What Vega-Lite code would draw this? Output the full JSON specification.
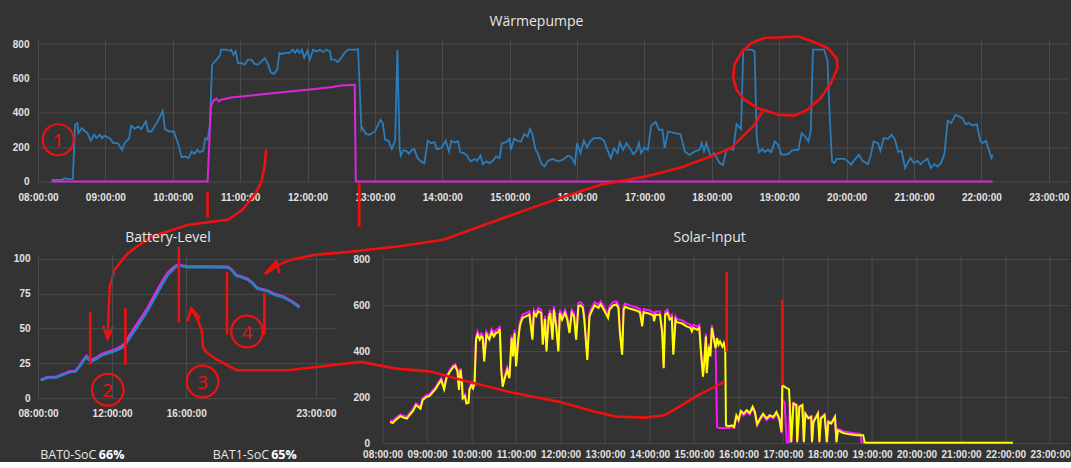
{
  "$schema": "https://vega.github.io/schema/vega-lite/v6.json",
  "background": "#333333",
  "padding": {"left": 12, "top": 14.5, "right": 0, "bottom": 0},
  "autosize": {"type": "pad"},
  "bounds": "flush",
  "spacing": 72.6,
  "config": {
    "view": {"stroke": null},
    "axis": {"domain": false, "ticks": false, "grid": true, "gridColor": "#4a4a4a", "gridWidth": 1, "labelColor": "#e2e2e2", "labelFont": "Liberation Sans", "labelFontSize": 10, "labelFontWeight": "bold", "title": null, "labelFlush": false, "labelOverlap": false},
    "title": {"font": "Open Sans", "fontSize": 14, "fontWeight": "normal", "color": "#e6e6e6", "frame": "group", "anchor": "middle"}
  },
  "datasets": {
    "wp1": [
      {"t":"08:12","v":10},{"t":"08:21","v":10},{"t":"08:24","v":19},{"t":"08:27","v":14},{"t":"08:31","v":15},{"t":"08:33","v":330},{"t":"08:35","v":340},{"t":"08:36","v":282},{"t":"08:39","v":311},{"t":"08:42","v":291},{"t":"08:44","v":282},{"t":"08:47","v":237},{"t":"08:50","v":272},{"t":"08:52","v":252},{"t":"08:55","v":272},{"t":"08:57","v":252},{"t":"08:59","v":266},{"t":"09:04","v":252},{"t":"09:07","v":223},{"t":"09:11","v":223},{"t":"09:15","v":184},{"t":"09:17","v":223},{"t":"09:21","v":249},{"t":"09:23","v":326},{"t":"09:26","v":307},{"t":"09:29","v":320},{"t":"09:32","v":305},{"t":"09:36","v":350},{"t":"09:38","v":291},{"t":"09:41","v":291},{"t":"09:45","v":334},{"t":"09:48","v":369},{"t":"09:51","v":412},{"t":"09:53","v":305},{"t":"09:57","v":291},{"t":"10:01","v":291},{"t":"10:05","v":214},{"t":"10:08","v":140},{"t":"10:11","v":146},{"t":"10:14","v":136},{"t":"10:17","v":175},{"t":"10:19","v":161},{"t":"10:22","v":184},{"t":"10:24","v":171},{"t":"10:27","v":179},{"t":"10:29","v":252},{"t":"10:31","v":243},{"t":"10:33","v":330},{"t":"10:35","v":680},{"t":"10:39","v":709},{"t":"10:42","v":734},{"t":"10:43","v":767},{"t":"10:48","v":767},{"t":"10:51","v":761},{"t":"10:52","v":767},{"t":"10:54","v":738},{"t":"10:56","v":757},{"t":"10:58","v":689},{"t":"11:01","v":689},{"t":"11:04","v":680},{"t":"11:07","v":709},{"t":"11:10","v":709},{"t":"11:13","v":684},{"t":"11:16","v":680},{"t":"11:19","v":699},{"t":"11:22","v":719},{"t":"11:25","v":680},{"t":"11:27","v":637},{"t":"11:30","v":625},{"t":"11:33","v":651},{"t":"11:35","v":748},{"t":"11:37","v":742},{"t":"11:40","v":748},{"t":"11:44","v":748},{"t":"11:47","v":767},{"t":"11:49","v":748},{"t":"11:51","v":767},{"t":"11:53","v":748},{"t":"11:55","v":767},{"t":"11:57","v":719},{"t":"12:00","v":761},{"t":"12:02","v":709},{"t":"12:05","v":767},{"t":"12:08","v":757},{"t":"12:11","v":767},{"t":"12:14","v":754},{"t":"12:17","v":767},{"t":"12:20","v":757},{"t":"12:21","v":709},{"t":"12:24","v":709},{"t":"12:27","v":695},{"t":"12:30","v":719},{"t":"12:33","v":748},{"t":"12:36","v":767},{"t":"12:42","v":767},{"t":"12:45","v":769},{"t":"12:48","v":301},{"t":"12:49","v":311},{"t":"12:52","v":276},{"t":"12:55","v":272},{"t":"13:00","v":291},{"t":"13:03","v":334},{"t":"13:05","v":359},{"t":"13:07","v":340},{"t":"13:09","v":243},{"t":"13:12","v":237},{"t":"13:15","v":188},{"t":"13:18","v":237},{"t":"13:20","v":767},{"t":"13:22","v":194},{"t":"13:23","v":151},{"t":"13:25","v":181},{"t":"13:28","v":179},{"t":"13:30","v":161},{"t":"13:33","v":184},{"t":"13:35","v":188},{"t":"13:38","v":136},{"t":"13:41","v":117},{"t":"13:44","v":107},{"t":"13:47","v":237},{"t":"13:50","v":223},{"t":"13:53","v":229},{"t":"13:55","v":188},{"t":"13:59","v":194},{"t":"14:03","v":237},{"t":"14:06","v":175},{"t":"14:08","v":237},{"t":"14:11","v":227},{"t":"14:14","v":233},{"t":"14:16","v":171},{"t":"14:19","v":165},{"t":"14:22","v":151},{"t":"14:25","v":117},{"t":"14:29","v":130},{"t":"14:31","v":120},{"t":"14:34","v":151},{"t":"14:36","v":101},{"t":"14:39","v":117},{"t":"14:42","v":107},{"t":"14:45","v":120},{"t":"14:48","v":146},{"t":"14:51","v":136},{"t":"14:53","v":223},{"t":"14:57","v":229},{"t":"15:00","v":249},{"t":"15:01","v":184},{"t":"15:04","v":249},{"t":"15:07","v":237},{"t":"15:10","v":233},{"t":"15:13","v":276},{"t":"15:16","v":262},{"t":"15:18","v":305},{"t":"15:20","v":282},{"t":"15:23","v":184},{"t":"15:25","v":165},{"t":"15:28","v":107},{"t":"15:31","v":87},{"t":"15:34","v":120},{"t":"15:38","v":132},{"t":"15:43","v":117},{"t":"15:47","v":126},{"t":"15:52","v":151},{"t":"15:55","v":140},{"t":"15:58","v":103},{"t":"16:00","v":223},{"t":"16:03","v":165},{"t":"16:06","v":237},{"t":"16:09","v":198},{"t":"16:12","v":237},{"t":"16:15","v":252},{"t":"16:21","v":252},{"t":"16:24","v":237},{"t":"16:27","v":184},{"t":"16:30","v":136},{"t":"16:33","v":194},{"t":"16:36","v":165},{"t":"16:38","v":229},{"t":"16:41","v":184},{"t":"16:44","v":223},{"t":"16:47","v":194},{"t":"16:50","v":159},{"t":"16:53","v":179},{"t":"16:55","v":223},{"t":"16:57","v":165},{"t":"17:00","v":198},{"t":"17:03","v":184},{"t":"17:06","v":326},{"t":"17:10","v":346},{"t":"17:13","v":301},{"t":"17:16","v":301},{"t":"17:18","v":194},{"t":"17:21","v":291},{"t":"17:27","v":282},{"t":"17:32","v":276},{"t":"17:36","v":175},{"t":"17:40","v":155},{"t":"17:45","v":175},{"t":"17:49","v":184},{"t":"17:51","v":223},{"t":"17:53","v":175},{"t":"17:55","v":223},{"t":"17:59","v":146},{"t":"18:02","v":165},{"t":"18:07","v":107},{"t":"18:10","v":97},{"t":"18:13","v":184},{"t":"18:16","v":194},{"t":"18:19","v":184},{"t":"18:22","v":334},{"t":"18:26","v":305},{"t":"18:28","v":767},{"t":"18:35","v":767},{"t":"18:38","v":757},{"t":"18:40","v":252},{"t":"18:42","v":171},{"t":"18:45","v":190},{"t":"18:47","v":171},{"t":"18:50","v":184},{"t":"18:53","v":171},{"t":"18:56","v":233},{"t":"18:59","v":214},{"t":"19:02","v":155},{"t":"19:08","v":159},{"t":"19:11","v":179},{"t":"19:14","v":184},{"t":"19:17","v":184},{"t":"19:20","v":282},{"t":"19:23","v":262},{"t":"19:26","v":233},{"t":"19:28","v":291},{"t":"19:30","v":767},{"t":"19:40","v":767},{"t":"19:43","v":699},{"t":"19:45","v":369},{"t":"19:47","v":117},{"t":"19:49","v":107},{"t":"19:51","v":132},{"t":"19:58","v":132},{"t":"20:01","v":117},{"t":"20:04","v":97},{"t":"20:07","v":126},{"t":"20:11","v":155},{"t":"20:14","v":120},{"t":"20:19","v":101},{"t":"20:22","v":165},{"t":"20:24","v":233},{"t":"20:28","v":223},{"t":"20:30","v":179},{"t":"20:33","v":252},{"t":"20:37","v":249},{"t":"20:40","v":272},{"t":"20:43","v":243},{"t":"20:46","v":171},{"t":"20:49","v":179},{"t":"20:52","v":78},{"t":"20:55","v":117},{"t":"20:57","v":136},{"t":"21:00","v":107},{"t":"21:03","v":120},{"t":"21:06","v":101},{"t":"21:09","v":120},{"t":"21:12","v":132},{"t":"21:15","v":78},{"t":"21:18","v":101},{"t":"21:21","v":87},{"t":"21:24","v":107},{"t":"21:27","v":159},{"t":"21:30","v":353},{"t":"21:33","v":340},{"t":"21:37","v":388},{"t":"21:40","v":379},{"t":"21:43","v":369},{"t":"21:46","v":334},{"t":"21:49","v":340},{"t":"21:52","v":326},{"t":"21:56","v":334},{"t":"21:59","v":237},{"t":"22:01","v":223},{"t":"22:04","v":237},{"t":"22:09","v":136},{"t":"22:10","v":155}
    ],
    "wp2": [
      {"t":"08:12","v":0},{"t":"10:31","v":0},{"t":"10:34","v":437},{"t":"10:36","v":470},{"t":"10:39","v":482},{"t":"10:41","v":466},{"t":"10:43","v":476},{"t":"10:52","v":489},{"t":"11:22","v":509},{"t":"11:51","v":528},{"t":"12:21","v":548},{"t":"12:30","v":559},{"t":"12:42","v":563},{"t":"12:43","v":0},{"t":"22:10","v":0}
    ],
    "curveA": [
      {"t":"11:22","v":-539},{"t":"11:34","v":-485},{"t":"11:45","v":-456},{"t":"12:06","v":-427},{"t":"12:39","v":-408},{"t":"13:20","v":-378},{"t":"14:01","v":-339},{"t":"14:42","v":-242},{"t":"15:19","v":-155},{"t":"15:44","v":-97},{"t":"16:21","v":-19},{"t":"17:01","v":29},{"t":"17:31","v":78},{"t":"17:59","v":146},{"t":"18:17","v":194},{"t":"18:38","v":330},{"t":"18:45","v":408}
    ],
    "arrowA": [
      {"t":"11:22","v":-539},{"t":"11:32","v":-466},{"t":"11:35","v":-533}
    ],
    "curveB": [
      {"t":"09:02","v":-912},{"t":"09:03","v":-728},{"t":"09:04","v":-611},{"t":"09:08","v":-514},{"t":"09:20","v":-417},{"t":"09:41","v":-320},{"t":"10:14","v":-252},{"t":"10:49","v":-223},{"t":"11:02","v":-165},{"t":"11:14","v":-66},{"t":"11:19","v":0},{"t":"11:22","v":97},{"t":"11:23","v":185}
    ],
    "arrowB": [
      {"t":"08:58","v":-840},{"t":"09:02","v":-912},{"t":"09:07","v":-840}
    ],
    "ellUp": [
      {"t":"18:19","v":602},{"t":"18:20","v":679},{"t":"18:26","v":748},{"t":"18:35","v":806},{"t":"18:47","v":835},{"t":"18:59","v":838},{"t":"19:17","v":844},{"t":"19:28","v":819},{"t":"19:43","v":777},{"t":"19:51","v":718},{"t":"19:52","v":660}
    ],
    "ellLow": [
      {"t":"18:19","v":602},{"t":"18:22","v":534},{"t":"18:29","v":476},{"t":"18:41","v":427},{"t":"18:59","v":388},{"t":"19:13","v":383},{"t":"19:25","v":417},{"t":"19:37","v":486},{"t":"19:46","v":573},{"t":"19:52","v":660}
    ],
    "rulesTop": [
      {"t":"10:31","v":-60,"v2":-211},{"t":"12:46","v":-8,"v2":-264}
    ],
    "circTop": [
      {"t":"08:18","v":243}
    ],
    "numTop": [
      {"t":"08:18","v":243,"lab":"1"}
    ],
    "bat0": [
      {"t":"08:09","v":12.7},{"t":"08:27","v":14.4},{"t":"08:43","v":14.8},{"t":"08:59","v":14.8},{"t":"09:21","v":16.7},{"t":"09:43","v":18.7},{"t":"10:01","v":19.1},{"t":"10:15","v":22.7},{"t":"10:26","v":26.3},{"t":"10:37","v":29.4},{"t":"10:44","v":27.5},{"t":"10:53","v":26.3},{"t":"11:09","v":28},{"t":"11:25","v":30.4},{"t":"11:41","v":31.8},{"t":"11:58","v":32.8},{"t":"12:14","v":34.2},{"t":"12:30","v":35.9},{"t":"12:41","v":37.6},{"t":"12:52","v":41.4},{"t":"13:08","v":46.7},{"t":"13:24","v":51.9},{"t":"13:40","v":57.4},{"t":"13:56","v":62.9},{"t":"14:12","v":69.4},{"t":"14:28","v":75.8},{"t":"14:45","v":82.5},{"t":"15:01","v":88.5},{"t":"15:17","v":92.1},{"t":"15:28","v":94.5},{"t":"15:35","v":95.2},{"t":"16:05","v":94},{"t":"17:10","v":94},{"t":"18:15","v":93.8},{"t":"18:26","v":92.1},{"t":"18:42","v":87.8},{"t":"18:58","v":86.8},{"t":"19:20","v":84.9},{"t":"19:36","v":82},{"t":"19:50","v":78.5},{"t":"20:03","v":77.8},{"t":"20:25","v":76.6},{"t":"20:46","v":74.2},{"t":"21:13","v":72.5},{"t":"21:40","v":69.4},{"t":"22:07","v":65.1}
    ],
    "bat1": [
      {"t":"08:09","v":13.0},{"t":"08:27","v":14.8},{"t":"08:43","v":15.1},{"t":"08:59","v":15.2},{"t":"09:21","v":17.2},{"t":"09:43","v":19.2},{"t":"10:01","v":19.5},{"t":"10:15","v":23.4},{"t":"10:26","v":27.2},{"t":"10:37","v":30.2},{"t":"10:44","v":28.4},{"t":"10:53","v":27.2},{"t":"11:09","v":29.0},{"t":"11:25","v":31.4},{"t":"11:41","v":32.8},{"t":"11:58","v":33.9},{"t":"12:14","v":35.3},{"t":"12:30","v":37.1},{"t":"12:41","v":39.2},{"t":"12:52","v":43.4},{"t":"13:08","v":48.8},{"t":"13:24","v":54.1},{"t":"13:40","v":59.6},{"t":"13:56","v":65.1},{"t":"14:12","v":71.6},{"t":"14:28","v":78.0},{"t":"14:45","v":84.6},{"t":"15:01","v":90.2},{"t":"15:17","v":93.4},{"t":"15:28","v":95.3},{"t":"15:35","v":95.6},{"t":"16:05","v":94.4},{"t":"17:10","v":94.4},{"t":"18:15","v":94.2},{"t":"18:26","v":92.6},{"t":"18:42","v":88.3},{"t":"18:58","v":87.3},{"t":"19:20","v":85.4},{"t":"19:36","v":82.5},{"t":"19:50","v":79.0},{"t":"20:03","v":78.3},{"t":"20:25","v":77.1},{"t":"20:46","v":74.7},{"t":"21:13","v":73.0},{"t":"21:40","v":69.9},{"t":"22:07","v":65.7}
    ],
    "rulesBat": [
      {"t":"10:49","v":62,"v2":23.9},{"t":"12:43","v":64.8,"v2":23.9},{"t":"15:36","v":108.6,"v2":54.1},{"t":"18:12","v":90.7,"v2":45.5},{"t":"20:13","v":75.6,"v2":45.5}
    ],
    "circBat": [
      {"t":"11:46","v":6},{"t":"16:53","v":11.9},{"t":"19:17","v":47.8}
    ],
    "numBat": [
      {"t":"11:46","v":6,"lab":"2"},{"t":"16:53","v":11.9,"lab":"3"},{"t":"19:17","v":47.8,"lab":"4"}
    ],
    "batName": [
      {"t":"08:07","v":-40.7,"lab":"BAT0-SoC"},{"t":"17:26","v":-40.7,"lab":"BAT1-SoC"}
    ],
    "batVal": [
      {"t":"11:17","v":-40.7,"lab":"66%"},{"t":"20:35","v":-40.7,"lab":"65%"}
    ],
    "sol1": [
      {"t":"08:10","v":92},{"t":"08:14","v":88},{"t":"08:18","v":102},{"t":"08:24","v":117},{"t":"08:28","v":111},{"t":"08:33","v":107},{"t":"08:36","v":121},{"t":"08:41","v":140},{"t":"08:45","v":165},{"t":"08:48","v":158},{"t":"08:51","v":150},{"t":"08:54","v":187},{"t":"08:59","v":201},{"t":"09:03","v":204},{"t":"09:07","v":219},{"t":"09:12","v":238},{"t":"09:16","v":260},{"t":"09:19","v":274},{"t":"09:23","v":234},{"t":"09:26","v":282},{"t":"09:30","v":307},{"t":"09:33","v":321},{"t":"09:36","v":333},{"t":"09:38","v":336},{"t":"09:41","v":311},{"t":"09:43","v":231},{"t":"09:45","v":318},{"t":"09:47","v":263},{"t":"09:48","v":194},{"t":"09:51","v":204},{"t":"09:53","v":172},{"t":"09:56","v":175},{"t":"09:57","v":231},{"t":"10:00","v":253},{"t":"10:02","v":238},{"t":"10:04","v":260},{"t":"10:06","v":450},{"t":"10:08","v":472},{"t":"10:11","v":450},{"t":"10:13","v":464},{"t":"10:15","v":458},{"t":"10:17","v":355},{"t":"10:20","v":472},{"t":"10:24","v":450},{"t":"10:27","v":482},{"t":"10:30","v":464},{"t":"10:33","v":479},{"t":"10:36","v":482},{"t":"10:38","v":496},{"t":"10:40","v":318},{"t":"10:42","v":245},{"t":"10:44","v":274},{"t":"10:48","v":318},{"t":"10:51","v":282},{"t":"10:54","v":457},{"t":"10:56","v":377},{"t":"10:58","v":479},{"t":"11:00","v":333},{"t":"11:03","v":450},{"t":"11:05","v":508},{"t":"11:07","v":530},{"t":"11:09","v":545},{"t":"11:14","v":552},{"t":"11:18","v":559},{"t":"11:22","v":450},{"t":"11:24","v":566},{"t":"11:27","v":552},{"t":"11:30","v":574},{"t":"11:34","v":566},{"t":"11:36","v":428},{"t":"11:39","v":540},{"t":"11:41","v":399},{"t":"11:44","v":545},{"t":"11:46","v":566},{"t":"11:49","v":450},{"t":"11:51","v":581},{"t":"11:54","v":508},{"t":"11:57","v":399},{"t":"11:59","v":566},{"t":"12:02","v":537},{"t":"12:06","v":566},{"t":"12:09","v":537},{"t":"12:12","v":479},{"t":"12:15","v":566},{"t":"12:18","v":552},{"t":"12:21","v":450},{"t":"12:24","v":596},{"t":"12:27","v":599},{"t":"12:30","v":588},{"t":"12:32","v":537},{"t":"12:36","v":362},{"t":"12:39","v":552},{"t":"12:43","v":581},{"t":"12:46","v":599},{"t":"12:51","v":588},{"t":"12:54","v":603},{"t":"12:57","v":588},{"t":"13:01","v":564},{"t":"13:04","v":545},{"t":"13:06","v":581},{"t":"13:11","v":599},{"t":"13:15","v":603},{"t":"13:18","v":588},{"t":"13:20","v":479},{"t":"13:23","v":384},{"t":"13:25","v":581},{"t":"13:27","v":593},{"t":"13:34","v":584},{"t":"13:41","v":578},{"t":"13:47","v":569},{"t":"13:50","v":508},{"t":"13:52","v":569},{"t":"13:59","v":564},{"t":"14:05","v":555},{"t":"14:06","v":530},{"t":"14:08","v":558},{"t":"14:14","v":558},{"t":"14:17","v":479},{"t":"14:19","v":326},{"t":"14:21","v":558},{"t":"14:24","v":566},{"t":"14:27","v":537},{"t":"14:30","v":545},{"t":"14:32","v":384},{"t":"14:35","v":537},{"t":"14:37","v":526},{"t":"14:44","v":520},{"t":"14:50","v":508},{"t":"14:55","v":501},{"t":"14:57","v":486},{"t":"14:59","v":501},{"t":"15:04","v":493},{"t":"15:07","v":501},{"t":"15:09","v":406},{"t":"15:12","v":289},{"t":"15:14","v":362},{"t":"15:16","v":464},{"t":"15:17","v":304},{"t":"15:20","v":420},{"t":"15:22","v":377},{"t":"15:24","v":501},{"t":"15:26","v":464},{"t":"15:29","v":413},{"t":"15:31","v":457},{"t":"15:33","v":428},{"t":"15:35","v":442},{"t":"15:38","v":420},{"t":"15:40","v":435},{"t":"15:42","v":406},{"t":"15:43","v":77},{"t":"15:47","v":73},{"t":"15:51","v":77},{"t":"15:54","v":70},{"t":"15:57","v":121},{"t":"16:00","v":102},{"t":"16:03","v":140},{"t":"16:07","v":128},{"t":"16:11","v":143},{"t":"16:15","v":131},{"t":"16:19","v":158},{"t":"16:22","v":136},{"t":"16:25","v":82},{"t":"16:29","v":107},{"t":"16:33","v":128},{"t":"16:38","v":107},{"t":"16:42","v":121},{"t":"16:47","v":114},{"t":"16:51","v":136},{"t":"16:55","v":107},{"t":"16:58","v":48},{"t":"16:59","v":253},{"t":"17:02","v":245},{"t":"17:08","v":234},{"t":"17:09","v":172},{"t":"17:11","v":4},{"t":"17:14","v":172},{"t":"17:18","v":165},{"t":"17:19","v":4},{"t":"17:22","v":158},{"t":"17:26","v":165},{"t":"17:28","v":4},{"t":"17:30","v":128},{"t":"17:34","v":107},{"t":"17:38","v":114},{"t":"17:39","v":4},{"t":"17:41","v":92},{"t":"17:47","v":128},{"t":"17:49","v":4},{"t":"17:51","v":107},{"t":"17:56","v":121},{"t":"17:59","v":4},{"t":"18:01","v":92},{"t":"18:05","v":85},{"t":"18:10","v":114},{"t":"18:12","v":4},{"t":"18:14","v":55},{"t":"18:21","v":44},{"t":"18:30","v":38},{"t":"18:39","v":34},{"t":"18:48","v":34},{"t":"18:50","v":4},{"t":"18:52","v":2},{"t":"22:10","v":2}
    ],
    "sol2": [
      {"t":"08:10","v":100},{"t":"08:14","v":96},{"t":"08:18","v":110},{"t":"08:24","v":125},{"t":"08:28","v":119},{"t":"08:33","v":115},{"t":"08:36","v":129},{"t":"08:41","v":148},{"t":"08:45","v":173},{"t":"08:48","v":166},{"t":"08:51","v":158},{"t":"08:54","v":195},{"t":"08:59","v":209},{"t":"09:03","v":212},{"t":"09:07","v":227},{"t":"09:12","v":246},{"t":"09:16","v":268},{"t":"09:19","v":282},{"t":"09:23","v":242},{"t":"09:26","v":290},{"t":"09:30","v":315},{"t":"09:33","v":329},{"t":"09:36","v":341},{"t":"09:38","v":344},{"t":"09:41","v":319},{"t":"09:43","v":239},{"t":"09:45","v":326},{"t":"09:47","v":271},{"t":"09:48","v":202},{"t":"09:51","v":212},{"t":"09:53","v":180},{"t":"09:56","v":183},{"t":"09:57","v":239},{"t":"10:00","v":261},{"t":"10:02","v":246},{"t":"10:04","v":268},{"t":"10:06","v":462},{"t":"10:08","v":486},{"t":"10:11","v":462},{"t":"10:13","v":478},{"t":"10:15","v":472},{"t":"10:17","v":367},{"t":"10:20","v":486},{"t":"10:24","v":462},{"t":"10:27","v":496},{"t":"10:30","v":478},{"t":"10:33","v":493},{"t":"10:36","v":496},{"t":"10:38","v":510},{"t":"10:40","v":330},{"t":"10:42","v":255},{"t":"10:44","v":284},{"t":"10:48","v":330},{"t":"10:51","v":292},{"t":"10:54","v":469},{"t":"10:56","v":389},{"t":"10:58","v":493},{"t":"11:00","v":345},{"t":"11:03","v":462},{"t":"11:05","v":522},{"t":"11:07","v":545},{"t":"11:09","v":560},{"t":"11:14","v":566},{"t":"11:18","v":573},{"t":"11:22","v":462},{"t":"11:24","v":580},{"t":"11:27","v":566},{"t":"11:30","v":588},{"t":"11:34","v":580},{"t":"11:36","v":440},{"t":"11:39","v":554},{"t":"11:41","v":411},{"t":"11:44","v":559},{"t":"11:46","v":580},{"t":"11:49","v":462},{"t":"11:51","v":595},{"t":"11:54","v":520},{"t":"11:57","v":411},{"t":"11:59","v":580},{"t":"12:02","v":551},{"t":"12:06","v":580},{"t":"12:09","v":551},{"t":"12:12","v":491},{"t":"12:15","v":580},{"t":"12:18","v":566},{"t":"12:21","v":462},{"t":"12:24","v":610},{"t":"12:27","v":613},{"t":"12:30","v":602},{"t":"12:32","v":551},{"t":"12:36","v":374},{"t":"12:39","v":566},{"t":"12:43","v":595},{"t":"12:46","v":613},{"t":"12:51","v":602},{"t":"12:54","v":617},{"t":"12:57","v":602},{"t":"13:01","v":578},{"t":"13:04","v":559},{"t":"13:06","v":595},{"t":"13:11","v":613},{"t":"13:15","v":617},{"t":"13:18","v":602},{"t":"13:20","v":491},{"t":"13:23","v":396},{"t":"13:25","v":595},{"t":"13:27","v":607},{"t":"13:34","v":598},{"t":"13:41","v":592},{"t":"13:47","v":583},{"t":"13:50","v":520},{"t":"13:52","v":583},{"t":"13:59","v":578},{"t":"14:05","v":569},{"t":"14:06","v":542},{"t":"14:08","v":572},{"t":"14:14","v":572},{"t":"14:17","v":491},{"t":"14:19","v":338},{"t":"14:21","v":572},{"t":"14:24","v":580},{"t":"14:27","v":551},{"t":"14:30","v":559},{"t":"14:32","v":396},{"t":"14:35","v":551},{"t":"14:37","v":540},{"t":"14:44","v":534},{"t":"14:50","v":522},{"t":"14:55","v":515},{"t":"14:57","v":498},{"t":"14:59","v":515},{"t":"15:04","v":507},{"t":"15:07","v":515},{"t":"15:09","v":418},{"t":"15:12","v":301},{"t":"15:14","v":374},{"t":"15:16","v":476},{"t":"15:17","v":316},{"t":"15:20","v":432},{"t":"15:22","v":389},{"t":"15:24","v":513},{"t":"15:26","v":476},{"t":"15:29","v":425},{"t":"15:31","v":70},{"t":"15:33","v":66},{"t":"15:38","v":66},{"t":"15:43","v":66},{"t":"15:47","v":66},{"t":"15:51","v":70},{"t":"15:54","v":66},{"t":"15:57","v":112},{"t":"16:00","v":95},{"t":"16:03","v":132},{"t":"16:07","v":120},{"t":"16:11","v":135},{"t":"16:15","v":124},{"t":"16:19","v":150},{"t":"16:22","v":128},{"t":"16:25","v":76},{"t":"16:29","v":100},{"t":"16:33","v":120},{"t":"16:38","v":100},{"t":"16:42","v":114},{"t":"16:47","v":107},{"t":"16:51","v":128},{"t":"16:55","v":100},{"t":"16:58","v":42},{"t":"16:59","v":187},{"t":"17:02","v":180},{"t":"17:05","v":4},{"t":"17:08","v":4},{"t":"17:09","v":172},{"t":"17:11","v":4},{"t":"17:14","v":175},{"t":"17:18","v":168},{"t":"17:19","v":4},{"t":"17:22","v":160},{"t":"17:26","v":168},{"t":"17:28","v":4},{"t":"17:30","v":130},{"t":"17:34","v":112},{"t":"17:38","v":118},{"t":"17:39","v":4},{"t":"17:41","v":96},{"t":"17:47","v":132},{"t":"17:49","v":4},{"t":"17:51","v":112},{"t":"17:56","v":126},{"t":"17:59","v":4},{"t":"18:01","v":96},{"t":"18:05","v":90},{"t":"18:10","v":118},{"t":"18:12","v":4},{"t":"18:14","v":62},{"t":"18:21","v":52},{"t":"18:30","v":46},{"t":"18:39","v":42},{"t":"18:44","v":40},{"t":"18:46","v":2},{"t":"18:50","v":2}
    ],
    "rulesSol": [
      {"t":"15:44","v":745,"v2":396},{"t":"16:59","v":621,"v2":251}
    ],
    "curveC": [
      {"t":"03:42","v":585},{"t":"03:51","v":534},{"t":"03:56","v":491},{"t":"03:58","v":418},{"t":"04:02","v":396},{"t":"04:14","v":368},{"t":"04:43","v":317},{"t":"05:52","v":317},{"t":"07:31","v":353},{"t":"08:18","v":324},{"t":"09:03","v":312},{"t":"09:48","v":273},{"t":"10:51","v":222},{"t":"11:59","v":179},{"t":"12:44","v":139},{"t":"13:14","v":116},{"t":"13:53","v":111},{"t":"14:20","v":121},{"t":"14:38","v":154},{"t":"15:05","v":208},{"t":"15:41","v":266}
    ],
    "arrowC": [
      {"t":"03:37","v":530},{"t":"03:42","v":585},{"t":"03:54","v":543}
    ]
  },
  "vconcat": [
    {
      "width": 1031,
      "height": 143,
      "title": {"text": "Wärmepumpe", "offset": 2, "dx": -17},
      "encoding": {
        "x": {"field": "t", "type": "temporal", "scale": {"domain": [{"year": 1900, "month": 1, "date": 1, "hours": 8}, {"year": 1900, "month": 1, "date": 1, "hours": 23, "minutes": 18}]}, "axis": {"format": "%H:%M:%S", "tickCount": 16, "labelPadding": 11}},
        "y": {"field": "v", "type": "quantitative", "scale": {"domain": [0, 832], "nice": false, "zero": false}, "axis": {"values": [0, 200, 400, 600, 800], "labelPadding": 9}}
      },
      "layer": [
        {"data": {"name": "wp1", "format": {"parse": {"t": "date:'%H:%M'"}}}, "mark": {"type": "line", "color": "#2a7cba", "strokeWidth": 1.8}},
        {"data": {"name": "wp2", "format": {"parse": {"t": "date:'%H:%M'"}}}, "mark": {"type": "line", "color": "#d927d9", "strokeWidth": 2}},
        {"data": {"name": "ellUp", "format": {"parse": {"t": "date:'%H:%M'"}}}, "mark": {"type": "line", "color": "#ee1111", "strokeWidth": 2.6}},
        {"data": {"name": "ellLow", "format": {"parse": {"t": "date:'%H:%M'"}}}, "mark": {"type": "line", "color": "#ee1111", "strokeWidth": 2.6}},
        {"data": {"name": "curveA", "format": {"parse": {"t": "date:'%H:%M'"}}}, "mark": {"type": "line", "color": "#ee1111", "strokeWidth": 2.6}},
        {"data": {"name": "arrowA", "format": {"parse": {"t": "date:'%H:%M'"}}}, "mark": {"type": "line", "color": "#ee1111", "strokeWidth": 2.6}},
        {"data": {"name": "curveB", "format": {"parse": {"t": "date:'%H:%M'"}}}, "mark": {"type": "line", "color": "#ee1111", "strokeWidth": 2.6}},
        {"data": {"name": "arrowB", "format": {"parse": {"t": "date:'%H:%M'"}}}, "mark": {"type": "line", "color": "#ee1111", "strokeWidth": 2.6}},
        {"data": {"name": "rulesTop", "format": {"parse": {"t": "date:'%H:%M'"}}}, "mark": {"type": "rule", "color": "#ee1111", "strokeWidth": 2.6}, "encoding": {"y2": {"field": "v2"}}},
        {"data": {"name": "circTop", "format": {"parse": {"t": "date:'%H:%M'"}}}, "mark": {"type": "point", "shape": "circle", "size": 960, "filled": false, "color": "#ee1111", "strokeWidth": 2.2, "opacity": 1}},
        {"data": {"name": "numTop", "format": {"parse": {"t": "date:'%H:%M'"}}}, "mark": {"type": "text", "color": "#ee1111", "font": "Open Sans", "fontSize": 19, "baseline": "middle", "align": "center", "dy": 1}, "encoding": {"text": {"field": "lab"}}}
      ]
    },
    {
      "bounds": "flush",
      "spacing": 46.6,
      "hconcat": [
        {
          "width": 298,
          "height": 144,
          "title": {"text": "Battery-Level", "offset": 1, "dx": -19},
          "encoding": {
            "x": {"field": "t", "type": "temporal", "scale": {"domain": [{"year": 1900, "month": 1, "date": 1, "hours": 8}, {"year": 1900, "month": 1, "date": 2, "hours": 0, "minutes": 5}]}, "axis": {"format": "%H:%M:%S", "values": [{"year": 1900, "month": 1, "date": 1, "hours": 8}, {"year": 1900, "month": 1, "date": 1, "hours": 12}, {"year": 1900, "month": 1, "date": 1, "hours": 16}, {"year": 1900, "month": 1, "date": 1, "hours": 23}], "labelPadding": 10}},
            "y": {"field": "v", "type": "quantitative", "scale": {"domain": [0, 103.4], "nice": false, "zero": false}, "axis": {"values": [0, 25, 50, 75, 100], "labelPadding": 8}}
          },
          "layer": [
            {"data": {"name": "bat1", "format": {"parse": {"t": "date:'%H:%M'"}}}, "mark": {"type": "line", "color": "#ee22ee", "strokeWidth": 2.6}},
            {"data": {"name": "bat0", "format": {"parse": {"t": "date:'%H:%M'"}}}, "mark": {"type": "line", "color": "#2d80c2", "strokeWidth": 2.4}},
            {"data": {"name": "rulesBat", "format": {"parse": {"t": "date:'%H:%M'"}}}, "mark": {"type": "rule", "color": "#ee1111", "strokeWidth": 2.6}, "encoding": {"y2": {"field": "v2"}}},
            {"data": {"name": "circBat", "format": {"parse": {"t": "date:'%H:%M'"}}}, "mark": {"type": "point", "shape": "circle", "size": 1000, "filled": false, "color": "#ee1111", "strokeWidth": 2.2, "opacity": 1}},
            {"data": {"name": "numBat", "format": {"parse": {"t": "date:'%H:%M'"}}}, "mark": {"type": "text", "color": "#ee1111", "font": "Open Sans", "fontSize": 19, "baseline": "middle", "align": "center", "dy": 1}, "encoding": {"text": {"field": "lab"}}},
            {"data": {"name": "batName", "format": {"parse": {"t": "date:'%H:%M'"}}}, "mark": {"type": "text", "color": "#e6e6e6", "font": "Open Sans", "fontSize": 12.5, "baseline": "middle", "align": "left"}, "encoding": {"text": {"field": "lab"}}},
            {"data": {"name": "batVal", "format": {"parse": {"t": "date:'%H:%M'"}}}, "mark": {"type": "text", "color": "#ffffff", "font": "Open Sans", "fontSize": 12.5, "fontWeight": "bold", "baseline": "middle", "align": "left"}, "encoding": {"text": {"field": "lab"}}}
          ]
        },
        {
          "width": 686,
          "height": 189,
          "title": {"text": "Solar-Input", "offset": 9, "dx": -16},
          "encoding": {
            "x": {"field": "t", "type": "temporal", "scale": {"domain": [{"year": 1900, "month": 1, "date": 1, "hours": 8}, {"year": 1900, "month": 1, "date": 1, "hours": 23, "minutes": 25}]}, "axis": {"format": "%H:%M:%S", "tickCount": 16, "labelPadding": 6}},
            "y": {"field": "v", "type": "quantitative", "scale": {"domain": [0, 822], "nice": false, "zero": false}, "axis": {"values": [0, 200, 400, 600, 800], "labelPadding": 13}}
          },
          "layer": [
            {"data": {"name": "sol2", "format": {"parse": {"t": "date:'%H:%M'"}}}, "mark": {"type": "line", "color": "#ff14ff", "strokeWidth": 2}},
            {"data": {"name": "sol1", "format": {"parse": {"t": "date:'%H:%M'"}}}, "mark": {"type": "line", "color": "#ffff00", "strokeWidth": 2}},
            {"data": {"name": "rulesSol", "format": {"parse": {"t": "date:'%H:%M'"}}}, "mark": {"type": "rule", "color": "#ee1111", "strokeWidth": 2.6}, "encoding": {"y2": {"field": "v2"}}},
            {"data": {"name": "curveC", "format": {"parse": {"t": "date:'%H:%M'"}}}, "mark": {"type": "line", "color": "#ee1111", "strokeWidth": 2.6}},
            {"data": {"name": "arrowC", "format": {"parse": {"t": "date:'%H:%M'"}}}, "mark": {"type": "line", "color": "#ee1111", "strokeWidth": 2.6}}
          ]
        }
      ]
    }
  ]
}
